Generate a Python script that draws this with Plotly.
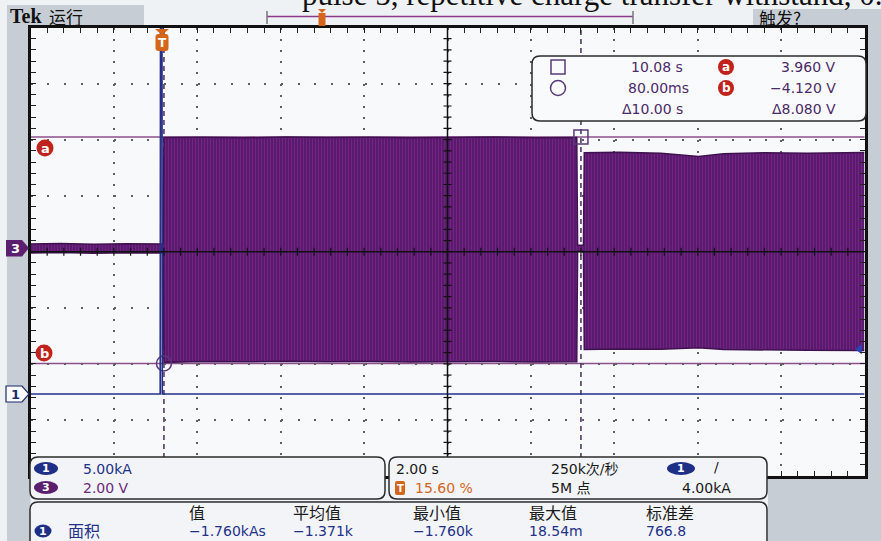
import plotly.graph_objects as go

W, H = 881, 541

# ---- acquisition settings ----
time_per_div = 2.0      # s/div
trigger_pos = 0.156     # trigger position, fraction of record (15.60 %)
ch3_per_div = 2.0       # V/div
ch1_per_div = 5.0       # kA/div
ch3_offset_v = 0.134    # ch3 ground marker above screen centre, in volts
ch1_offset_div = 2.537  # ch1 ground marker below screen centre, in divisions
trig_level_ka = 4.0

# ---- CH3 (voltage) envelope of the dense oscillation ----
t_env = [-3.12, -2.4, -1.6, -0.8, 0.0, 0.06,
         0.08, 1.0, 2.0, 3.0, 4.0, 5.0, 6.0, 7.0, 8.0, 9.0, 9.98,
         10.0, 10.14,
         10.16, 11.0, 12.0, 12.9, 13.5, 14.5, 15.5, 16.88]
ch3_upper = [0.14, 0.16, 0.13, 0.15, 0.14, 0.14,
             3.94, 3.95, 3.93, 3.96, 3.94, 3.95, 3.93, 3.94, 3.96, 3.93, 3.94,
             0.10, 0.10,
             3.40, 3.42, 3.38, 3.26, 3.36, 3.40, 3.38, 3.41]
ch3_lower = [-0.18, -0.16, -0.19, -0.17, -0.18, -0.18,
             -4.08, -4.05, -4.06, -4.04, -4.06, -4.05, -4.07, -4.06, -4.05, -4.07, -4.06,
             -0.12, -0.12,
             -3.62, -3.60, -3.61, -3.56, -3.62, -3.64, -3.65, -3.66]

# ---- CH1 (current) ----
t_ch1 = [-3.12, -0.01, 0.0, 0.03, 0.04, 16.88]
ch1_ka = [0.0, 0.0, 45.0, 45.0, 0.0, 0.0]

# ---- cursors ----
cursor_t = [10.08, 0.08]      # square, circle
cursor_v = [3.96, -4.12]      # a, b
cursor_dt = 10.00
cursor_dv = 8.08

# ---- measurement readout ----
meas_headers = ["值", "平均值", "最小值", "最大值", "标准差"]
meas_values = ["-1.760kAs", "-1.371k", "-1.760k", "18.54m", "766.8"]

t_left = -trigger_pos * 10 * time_per_div
t_right = t_left + 10 * time_per_div
v_lo = -4 * ch3_per_div - ch3_offset_v
v_hi = 4 * ch3_per_div - ch3_offset_v
i_centre = ch1_offset_div * ch1_per_div
i_lo, i_hi = i_centre - 4 * ch1_per_div, i_centre + 4 * ch1_per_div
t_mid = t_left + 5 * time_per_div
v_mid = -ch3_offset_v


def px(x):
    return x / W


def py(y):
    return 1 - y / H


SANS = "DejaVu Sans, Noto Sans CJK SC, sans-serif"
CJK = "Noto Sans CJK SC, DejaVu Sans, sans-serif"
C_READ = "#4b2a68"
C_CH1 = "#23318a"
C_CH3 = "#6b2a7c"
C_ORANGE = "#d4661c"
C_INK = "#1a1a1a"
C_GRAY = "#c7cdd5"
C_PANEL = "#f2f4f7"

fig = go.Figure()

# CH3 burst envelope
fig.add_trace(go.Scatter(
    x=t_env, y=ch3_lower, mode="lines",
    line=dict(color="#3f1150", width=1.5), hoverinfo="skip"))
fig.add_trace(go.Scatter(
    x=t_env, y=ch3_upper, mode="lines", fill="tonexty",
    line=dict(color="#3f1150", width=1.5),
    fillcolor="#6d2079",
    fillpattern=dict(shape="|", size=3, solidity=0.45,
                     fgcolor="#3c1259", bgcolor="#80268a", fillmode="replace"),
    hoverinfo="skip"))

# CH1 current
fig.add_trace(go.Scatter(
    x=t_ch1, y=ch1_ka, yaxis="y2", mode="lines",
    line=dict(color="#24308a", width=1.6), hoverinfo="skip"))
# CH1 trigger level arrow
fig.add_trace(go.Scatter(
    x=[t_right - 0.12], y=[trig_level_ka], yaxis="y2", mode="markers",
    marker=dict(symbol="triangle-left", size=9, color="#2a46b8"),
    cliponaxis=False, hoverinfo="skip"))

# cursor markers
fig.add_trace(go.Scatter(
    x=[cursor_t[0]], y=[cursor_v[0]], mode="markers",
    marker=dict(symbol="square-open", size=14, color="#5a3a7a", line=dict(width=1.5)),
    cliponaxis=False, hoverinfo="skip"))
fig.add_trace(go.Scatter(
    x=[cursor_t[1]], y=[cursor_v[1]], mode="markers",
    marker=dict(symbol="circle-open", size=15, color="#5a3a7a", line=dict(width=1.5)),
    cliponaxis=False, hoverinfo="skip"))

shapes = []
ann = []


def rect(x0, y0, x1, y1, fill, line=None, lw=0, layer="below"):
    shapes.append(dict(type="rect", xref="paper", yref="paper",
                       x0=px(x0), x1=px(x1), y0=py(y1), y1=py(y0),
                       fillcolor=fill, line=dict(color=line or fill, width=lw),
                       layer=layer))


def rrect(x0, y0, x1, y1, r, fill, line="#2b2b2b", lw=1.5, layer="above"):
    rx, ry = r / W, r / H
    X0, X1, Y0, Y1 = px(x0), px(x1), py(y0), py(y1)
    path = (f"M{X0 + rx},{Y0} L{X1 - rx},{Y0} Q{X1},{Y0} {X1},{Y0 - ry} "
            f"L{X1},{Y1 + ry} Q{X1},{Y1} {X1 - rx},{Y1} L{X0 + rx},{Y1} "
            f"Q{X0},{Y1} {X0},{Y1 + ry} L{X0},{Y0 - ry} Q{X0},{Y0} {X0 + rx},{Y0} Z")
    shapes.append(dict(type="path", xref="paper", yref="paper", path=path,
                       fillcolor=fill, line=dict(color=line, width=lw), layer=layer))


def poly(points, fill, line=None, lw=0):
    path = "M" + " L".join(f"{px(x)},{py(y)}" for x, y in points) + " Z"
    shapes.append(dict(type="path", xref="paper", yref="paper", path=path,
                       fillcolor=fill, line=dict(color=line or fill, width=lw),
                       layer="above"))


def ellipse(cx, cy, w, h, fill, line=None, lw=0):
    shapes.append(dict(type="circle", xref="paper", yref="paper",
                       x0=px(cx - w / 2), x1=px(cx + w / 2),
                       y0=py(cy + h / 2), y1=py(cy - h / 2),
                       fillcolor=fill, line=dict(color=line or fill, width=lw),
                       layer="above"))


def text(x, y, s, size=14, color=C_INK, anchor="left", family=SANS, bold=False):
    if bold:
        s = f"<b>{s}</b>"
    ann.append(dict(x=px(x), y=py(y), xref="paper", yref="paper", text=s,
                    showarrow=False, xanchor=anchor, yanchor="middle",
                    font=dict(size=size, color=color, family=family),
                    borderpad=0))


def badge(cx, cy, w, h, fill, label, tcolor="white", line=None, size=11):
    ellipse(cx, cy, w, h, fill, line, 1 if line else 0)
    text(cx, cy, label, size=size, color=tcolor, anchor="center", bold=True)


# surrounding bezel areas
rect(7, 5, 144, 27, C_GRAY)
rect(7, 27, 30.5, 541, C_GRAY)
rect(753, 9, 881, 27, C_GRAY)
rect(866, 9, 881, 541, C_GRAY)
rect(768, 478, 881, 541, C_GRAY)

# heading strip running off the page top
ann.append(dict(x=px(300), y=py(-6), xref="paper", yref="paper",
                text="pulse 5, repetitive charge transfer withstand, 0.0019",
                showarrow=False, xanchor="left", yanchor="middle",
                font=dict(size=31, color="#111", family="Liberation Serif, serif")))

text(9, 16, "Tek", size=20, color="#111", family="Liberation Serif, serif", bold=True)
text(48, 16, "运行", size=17, color="#111", family=CJK)
text(758, 18, "触发?", size=17, color="#111", family=CJK)

# record position bar
shapes.append(dict(type="line", xref="paper", yref="paper", x0=px(267), x1=px(633),
                   y0=py(16.5), y1=py(16.5), line=dict(color="#8a3a88", width=1.5)))
for bx in (267, 633):
    shapes.append(dict(type="line", xref="paper", yref="paper", x0=px(bx), x1=px(bx),
                       y0=py(11), y1=py(24), line=dict(color="#777", width=1.5)))
poly([(318, 9), (326, 9), (322, 13)], C_ORANGE)
rect(318.5, 13, 325.5, 26, C_ORANGE, layer="above")

# graticule centre cross with ticks
shapes.append(dict(type="line", xref="x", yref="paper", x0=t_mid, x1=t_mid,
                   y0=py(476), y1=py(27.5), line=dict(color="#111", width=1.5)))
shapes.append(dict(type="line", xref="paper", yref="y", x0=px(30.5), x1=px(864.5),
                   y0=v_mid, y1=v_mid, line=dict(color="#111", width=1.5)))
ymid_px = 251.75
xmid_px = 447.5
for k in range(1, 50):
    t = t_left + k * time_per_div / 5
    shapes.append(dict(type="line", xref="x", yref="paper", x0=t, x1=t,
                       y0=py(ymid_px + 4), y1=py(ymid_px - 4),
                       line=dict(color="#111", width=1.2)))
for k in range(1, 40):
    v = v_lo + k * ch3_per_div / 5
    shapes.append(dict(type="line", xref="paper", yref="y", x0=px(xmid_px - 4),
                       x1=px(xmid_px + 4), y0=v, y1=v,
                       line=dict(color="#111", width=1.2)))

# cursor lines
for v in cursor_v:
    shapes.append(dict(type="line", xref="paper", yref="y", x0=px(30.5), x1=px(864.5),
                       y0=v, y1=v, line=dict(color="#8d4f8e", width=1.3), layer="between"))
for t in cursor_t:
    shapes.append(dict(type="line", xref="x", yref="paper", x0=t, x1=t,
                       y0=py(476), y1=py(27.5),
                       line=dict(color="#4a2a62", width=1.5, dash="5px,4px"), layer="between"))

# trigger position marker
poly([(155, 29), (169, 29), (162, 35)], C_ORANGE)
rrect(155.5, 34, 168.5, 51, 3, C_ORANGE, line=C_ORANGE, lw=0)
text(162, 43, "T", size=12, color="white", anchor="center", bold=True)

# channel / cursor level markers on the left
poly([(6, 240), (22, 240), (29, 248), (22, 256.5), (6, 256.5)], "#5a1f6e")
text(15, 248.5, "3", size=13, color="white", anchor="center", bold=True)
poly([(6, 386), (22, 386), (29, 394), (22, 402), (6, 402)], "#fbfbfd", line="#1a2a6a", lw=1.2)
text(15, 394, "1", size=13, color="#1a2a6a", anchor="center", bold=True)
badge(45, 148, 17, 17, "#c0231b", "a", size=13)
badge(44, 353, 17, 17, "#c0231b", "b", size=13)

# cursor readout box
rrect(532, 56, 866, 121, 8, "#f9fafb")
shapes.append(dict(type="rect", xref="paper", yref="paper", x0=px(551), x1=px(565),
                   y0=py(74), y1=py(60), line=dict(color="#5a3a7a", width=1.5),
                   layer="above"))
ellipse(558, 88, 15, 15, "rgba(0,0,0,0)", "#5a3a7a", 1.5)
text(630, 67, f"{cursor_t[0]:.2f} s", color=C_READ)
text(627, 88, f"{cursor_t[1] * 1000:.2f}ms", color=C_READ)
text(621, 109, f"Δ{cursor_dt:.2f} s", color=C_READ)
badge(726, 67, 16, 16, "#c0231b", "a", size=12)
badge(726, 88, 16, 16, "#c0231b", "b", size=12)
text(837, 67, f"{cursor_v[0]:.3f} V", color=C_READ, anchor="right")
text(837, 88, f"{cursor_v[1]:.3f} V".replace("-", "−"), color=C_READ, anchor="right")
text(837, 109, f"Δ{cursor_dv:.3f} V", color=C_READ, anchor="right")

# lower readout panels
rrect(30, 457, 385, 499, 8, C_PANEL)
rrect(389, 457, 767, 499, 8, C_PANEL)
rrect(30, 502, 767, 560, 8, C_PANEL)

badge(46, 468.5, 24, 13, "#1f2f86", "1")
text(82, 469, f"{ch1_per_div:.2f}kA", color=C_CH1)
badge(46, 487.5, 24, 13, "#5b1f6e", "3")
text(82, 488, f"{ch3_per_div:.2f} V", color=C_CH3)

text(395, 469, f"{time_per_div:.2f} s", color=C_INK)
rrect(395, 481, 405, 495, 2, C_ORANGE, line=C_ORANGE, lw=0)
text(400, 488, "T", size=10, color="white", anchor="center", bold=True)
text(414, 488, f"{trigger_pos * 100:.2f} %", color=C_ORANGE)
text(550, 469, "250k次/秒", color=C_INK)
text(550, 488, "5M 点", color=C_INK)
badge(681, 468.5, 28, 13, "#1f2f86", "1")
text(716, 467, "/", size=14, color=C_INK, anchor="center")
text(732, 488, f"{trig_level_ka:.2f}kA", color=C_INK, anchor="right")

header_x = [188, 292, 412, 528, 645]
for hx, h in zip(header_x, meas_headers):
    text(hx, 512, h, size=16, color=C_INK, family=CJK)
for hx, v in zip(header_x, meas_values):
    text(hx, 531, v.replace("-", "−"), size=14, color=C_CH1)
badge(43, 531, 17, 13, "#1f2f86", "1")
text(67, 530, "面积", size=16, color=C_CH1, family=CJK)

axis_common = dict(showticklabels=False, zeroline=False, showline=True,
                   linecolor="#111", linewidth=3, mirror="ticks",
                   ticks="inside", ticklen=5, tickcolor="#222", tickwidth=1.2,
                   showgrid=True, gridcolor="#5f5f5f", gridwidth=1.6,
                   fixedrange=True)

fig.update_layout(
    width=W, height=H,
    margin=dict(l=0, r=0, t=0, b=0),
    paper_bgcolor="#eff2f5",
    plot_bgcolor="#f8f9fb",
    showlegend=False,
    xaxis=dict(domain=[px(30.5), px(864.5)], range=[t_left, t_right],
               dtick=time_per_div, tick0=t_left, griddash="2px,9.2px",
               minor=dict(dtick=time_per_div / 5, tick0=t_left, ticks="inside",
                          ticklen=5, tickcolor="#222", tickwidth=1.2, showgrid=False),
               **axis_common),
    yaxis=dict(domain=[py(476), py(27.5)], range=[v_lo, v_hi],
               dtick=ch3_per_div, tick0=v_mid, griddash="2px,14.7px",
               minor=dict(dtick=ch3_per_div / 5, tick0=v_mid, ticks="inside",
                          ticklen=5, tickcolor="#222", tickwidth=1.2, showgrid=False),
               **axis_common),
    yaxis2=dict(overlaying="y", range=[i_lo, i_hi], visible=False, fixedrange=True),
    shapes=shapes,
    annotations=ann,
)

fig.write_html("out.html")
